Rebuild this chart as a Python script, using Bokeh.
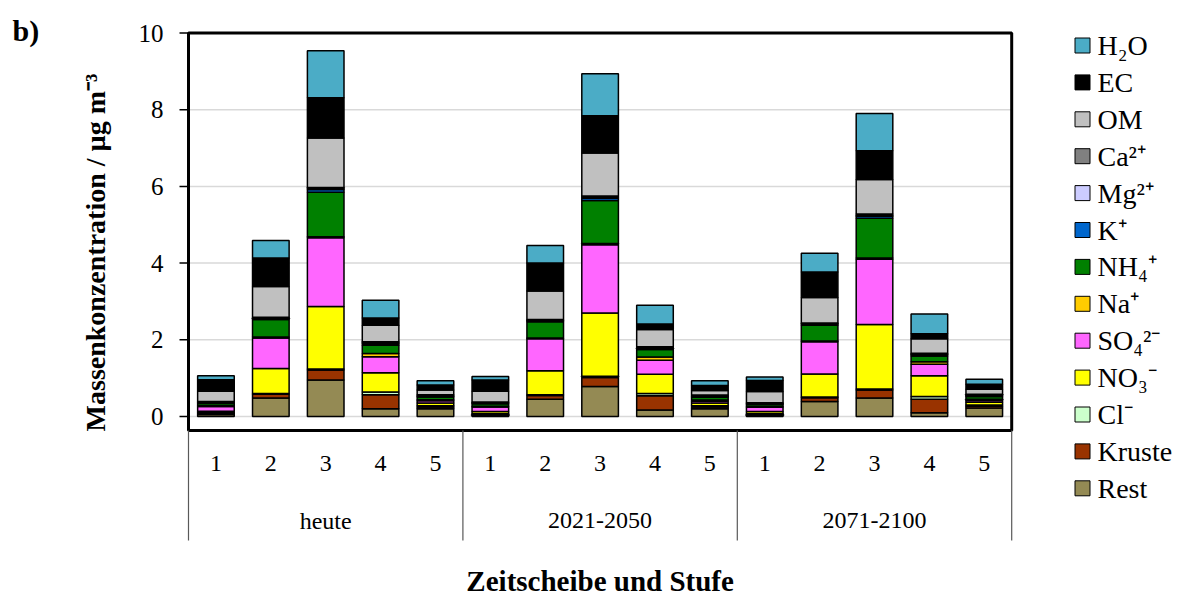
import math
from bokeh.plotting import figure
from bokeh.models import ColumnDataSource, Range1d
from bokeh.core.properties import value
from bokeh.embed import file_html
from bokeh.resources import INLINE

# ---------------- data ----------------
groups = ["heute", "2021-2050", "2071-2100"]
stufen = ["1", "2", "3", "4", "5"]

# stacking order bottom -> top
components = ["Rest", "Kruste", "Cl", "NO3", "SO4", "Na", "NH4", "K", "Mg", "Ca", "OM", "EC", "H2O"]
legend_labels = ["Rest", "Kruste", "Cl⁻", "NO₃⁻", "SO₄²⁻", "Na⁺", "NH₄⁺", "K⁺", "Mg²⁺", "Ca²⁺", "OM", "EC", "H₂O"]
colors = ["#948A54", "#993300", "#CCFFCC", "#FFFF00", "#FF66FF", "#FFCC00", "#008000",
          "#0066CC", "#CCCCFF", "#808080", "#C0C0C0", "#000000", "#4BACC6"]

rest   = [0.05, 0.48, 0.95, 0.20, 0.20, 0.03, 0.45, 0.78, 0.17, 0.20, 0.03, 0.39, 0.48, 0.10, 0.22]
kruste = [0.04, 0.10, 0.26, 0.37, 0.05, 0.03, 0.10, 0.24, 0.37, 0.05, 0.03, 0.10, 0.21, 0.35, 0.05]
cl     = [0.01, 0.02, 0.03, 0.07, 0.03, 0.01, 0.02, 0.03, 0.06, 0.03, 0.01, 0.02, 0.03, 0.07, 0.03]
no3    = [0.04, 0.65, 1.63, 0.50, 0.07, 0.06, 0.62, 1.65, 0.50, 0.07, 0.06, 0.60, 1.68, 0.54, 0.07]
so4    = [0.12, 0.80, 1.79, 0.42, 0.06, 0.12, 0.84, 1.78, 0.37, 0.05, 0.11, 0.84, 1.70, 0.30, 0.05]
na     = [0.02, 0.02, 0.03, 0.08, 0.03, 0.02, 0.02, 0.03, 0.08, 0.03, 0.02, 0.02, 0.03, 0.07, 0.03]
nh4    = [0.06, 0.46, 1.16, 0.22, 0.07, 0.06, 0.42, 1.12, 0.20, 0.07, 0.05, 0.41, 1.04, 0.15, 0.07]
k      = [0.02, 0.03, 0.07, 0.04, 0.02, 0.02, 0.03, 0.06, 0.03, 0.02, 0.02, 0.03, 0.05, 0.03, 0.02]
mg     = [0.01, 0.01, 0.02, 0.02, 0.01, 0.01, 0.01, 0.02, 0.02, 0.01, 0.01, 0.01, 0.02, 0.02, 0.01]
ca     = [0.02, 0.02, 0.03, 0.03, 0.03, 0.02, 0.02, 0.04, 0.02, 0.03, 0.02, 0.02, 0.04, 0.02, 0.03]
om     = [0.27, 0.80, 1.29, 0.43, 0.12, 0.28, 0.74, 1.12, 0.45, 0.12, 0.29, 0.66, 0.90, 0.38, 0.13]
ec     = [0.30, 0.74, 1.05, 0.19, 0.13, 0.29, 0.73, 0.97, 0.14, 0.13, 0.29, 0.67, 0.75, 0.13, 0.13]
h2o    = [0.10, 0.46, 1.23, 0.46, 0.11, 0.09, 0.46, 1.10, 0.49, 0.12, 0.09, 0.49, 0.97, 0.51, 0.13]

y_ticks = [0, 2, 4, 6, 8, 10]
y_tick_labels = ["0", "2", "4", "6", "8", "10"]

# ---------------- build ----------------
series = [rest, kruste, cl, no3, so4, na, nh4, k, mg, ca, om, ec, h2o]
n_bars = len(groups) * len(stufen)
data = {"x": [i + 0.5 for i in range(n_bars)]}
for name, vals in zip(components, series):
    data[name] = vals
source = ColumnDataSource(data)

FONT = value("Liberation Serif")
PX_X = 54.88     # pixels per category
PX_Y = 38.35     # pixels per unit of concentration
X0 = 188         # pixel of category axis start
Y0 = 416         # pixel of zero
W, H = 1178, 596

def dx(px):
    return (px - X0) / PX_X

def dy(py):
    return (Y0 - py) / PX_Y

Y_BOTTOM = dy(430)   # lower edge of plot box
Y_SEP = dy(540)      # lower end of group separators

p = figure(width=W, height=H, output_backend="svg", toolbar_location=None,
           x_range=Range1d(dx(0), dx(W)), y_range=Range1d(dy(H), dy(0)),
           x_axis_location=None, y_axis_location=None,
           min_border=0, min_border_left=0, min_border_right=0,
           min_border_top=0, min_border_bottom=0)
p.outline_line_color = None
p.xgrid.visible = False
p.ygrid.visible = False

# gridlines
grid_vals = [t for t in y_ticks if t < max(y_ticks)]
p.segment(x0=[0] * len(grid_vals), x1=[n_bars] * len(grid_vals), y0=grid_vals, y1=grid_vals,
          line_color="#D9D9D9", line_width=1.5)

# bars
p.vbar_stack(components, x="x", width=0.667, source=source, fill_color=colors,
             line_color="black", line_width=1.5)

# plot box
p.quad(left=[0], right=[n_bars], bottom=[Y_BOTTOM], top=[max(y_ticks)],
       fill_color=None, line_color="black", line_width=3)

# y ticks and labels
p.segment(x0=[dx(179)] * len(y_ticks), x1=[0] * len(y_ticks), y0=y_ticks, y1=y_ticks,
          line_color="black", line_width=1.5)
p.text(x=[dx(163)] * len(y_ticks), y=y_ticks, text=y_tick_labels, text_font=FONT,
       text_font_size="25px", text_align="right", text_baseline="middle", text_color="black")

# group separators
seps = [g * len(stufen) for g in range(len(groups) + 1)]
p.segment(x0=seps, x1=seps, y0=[Y_BOTTOM] * len(seps), y1=[Y_SEP] * len(seps),
          line_color="#595959", line_width=1.2)

# category labels
p.text(x=data["x"], y=[dy(463)] * n_bars, text=stufen * len(groups),
       text_font=FONT, text_font_size="24px", text_align="center", text_baseline="middle",
       text_color="black")
p.text(x=[(g + 0.5) * len(stufen) for g in range(len(groups))], y=[dy(520)] * len(groups),
       text=groups, text_font=FONT, text_font_size="24px", text_align="center",
       text_baseline="middle", text_color="black")

# x title
p.text(x=[n_bars / 2], y=[dy(580)], text=["Zeitscheibe und Stufe"], text_font=FONT,
       text_font_size="29px", text_font_style="bold", text_align="center",
       text_baseline="middle", text_color="black")

# y title
p.text(x=[dx(95)], y=[dy(252)], text=["Massenkonzentration / µg m⁻³"], angle=math.pi / 2,
       text_font=FONT, text_font_size="28px", text_font_style="bold",
       text_align="center", text_baseline="middle", text_color="black")

# panel letter
p.text(x=[dx(12)], y=[dy(30)], text=["b)"], text_font=FONT, text_font_size="30px",
       text_font_style="bold", text_align="left", text_baseline="middle", text_color="black")

# legend (top = H2O)
leg_labels = list(reversed(legend_labels))
leg_colors = list(reversed(colors))
leg_y = [dy(45 + i * 36.9) for i in range(len(leg_labels))]
p.scatter(x=[dx(1082)] * len(leg_labels), y=leg_y, marker="square", size=15,
          fill_color=leg_colors, line_color="black", line_width=1)
p.text(x=[dx(1097)] * len(leg_labels), y=leg_y, text=leg_labels, text_font=FONT,
       text_font_size="28px", text_align="left", text_baseline="middle", text_color="black")

open("out.html", "w").write(file_html(p, INLINE))
